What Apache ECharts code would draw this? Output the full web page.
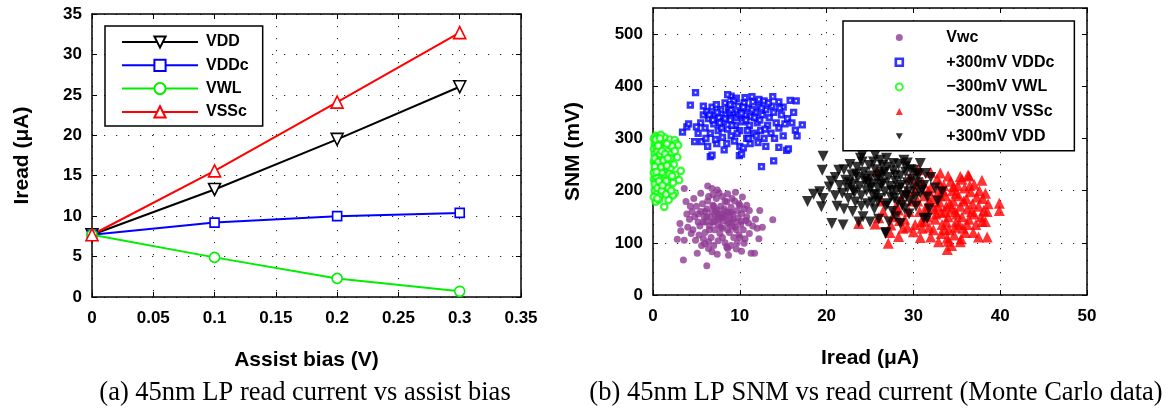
<!DOCTYPE html>
<html><head><meta charset="utf-8">
<script src="https://cdn.jsdelivr.net/npm/echarts@6/dist/echarts.min.js"></script>
<style>html,body{margin:0;padding:0;background:#fff}#c{width:1169px;height:409px}</style>
</head><body><div id="c"></div>
<script>
// ---------- (a) read current vs assist bias ----------
const biasX = [0, 0.1, 0.2, 0.3];
const vdd  = [7.7, 13.3, 19.5, 26.0];
const vddc = [7.7, 9.2, 10.0, 10.4];
const vwl  = [7.7, 4.9, 2.3, 0.7];
const vssc = [7.7, 15.6, 24.1, 32.7];
const leftXTicks = {min: 0, max: 0.35, interval: 0.05, showMax: true};
const leftYTicks = {min: 0, max: 35, interval: 5, showMax: true};

// ---------- (b) SNM vs read current (Monte Carlo) ----------
const vwcPts = [[6.3,209],[6.8,204],[7.4,201],[3.8,179],[3.6,204],[6.4,189],[8.0,189],[9.5,197],[10.3,188],[8.6,194],[2.8,107],[3.5,67],[6.2,56],[5.1,80],[6.4,89],[6.8,83],[7.4,78],[8.6,89],[8.7,76],[9.7,100],[3.1,137],[3.2,123],[3.6,105],[13.8,144],[12.6,130],[12.0,128],[11.1,118],[10.5,99],[11.3,80],[11.7,80],[10.2,84],[12.3,162],[11.1,162],[10.7,143],
[4.5,160],[4.8,150],[5.0,170],[5.2,140],[5.4,132],[5.5,160],[5.7,175],[5.9,150],[6.0,120],[6.1,140],[6.2,165],[6.3,180],[6.5,132],[6.6,150],[6.7,110],[6.8,160],[6.9,172],[7.0,140],[7.1,125],[7.2,152],[7.3,185],[7.4,163],[7.5,135],[7.6,145],[7.7,118],[7.8,170],[7.9,155],[8.0,128],[8.1,142],[8.2,165],[8.3,100],[8.4,150],[8.5,178],[8.6,137],[8.7,158],[8.8,120],[8.9,145],[9.0,168],[9.1,132],[9.2,155],[9.3,110],[9.4,180],[9.5,140],[9.6,125],[9.7,162],[9.8,148],[9.9,115],[10.0,172],[10.1,135],[10.2,156],[10.4,125],[10.5,165],[10.6,108],[10.8,150],[11.0,138],
[4.0,130],[4.2,145],[4.4,118],[4.6,125],[4.9,105],[5.3,115],[5.6,95],[5.8,108],[6.0,98],[6.4,102],[7.0,95],[7.5,104],[8.0,110],[8.5,92],[9.0,95],[9.6,88],[10.0,110],[11.5,132],[12.2,108],[11.8,145],[3.9,155],[4.3,170],[4.7,185],[5.5,195],[6.9,192],[7.6,196],[8.3,180],[9.1,185],[9.9,175],[10.8,172],
[6.2,150],[6.8,140],[7.2,160],[7.6,155],[8.0,148],[8.4,160],[8.8,138],[9.2,145],[7.0,170],[7.8,130],[8.6,125],[6.5,125],[5.8,140],[9.4,130],[8.2,152],[7.4,148],[6.0,160],[9.0,158],[10.2,142],[5.2,155]];

const vddcPts = [[4.9,388],[4.3,364],[3.4,312],[3.9,322],[4.1,328],[4.8,294],[5.6,294],[6.6,265],[6.8,268],[7.35,290],[9.95,267],[10.0,285],[12.5,246],[13.9,257],[14.5,283],[15.4,277],[15.6,280],[17.2,326],[16.4,316],[16.6,305],[15.8,373],[16.5,372],[13.8,380],[9.0,381],[9.6,377],[8.6,384],[10.6,378],[11.4,380],[12.2,375],[14.5,370],[15.0,360],
[5.5,330],[5.8,345],[6.0,320],[6.2,352],[6.4,338],[6.6,310],[6.8,360],[7.0,328],[7.1,345],[7.3,365],[7.5,315],[7.6,340],[7.8,355],[8.0,302],[8.1,332],[8.3,368],[8.4,345],[8.6,318],[8.7,358],[8.9,335],[9.0,305],[9.2,348],[9.3,372],[9.5,325],[9.6,340],[9.8,362],[10.0,315],[10.1,350],[10.3,332],[10.5,368],[10.6,345],[10.8,300],[11.0,358],[11.1,325],[11.3,342],[11.5,370],[11.6,310],[11.8,350],[12.0,330],[12.2,362],[12.4,315],[12.6,345],[12.8,300],[13.0,355],[13.2,325],[13.4,340],[13.6,310],[13.9,350],[14.2,330],[14.5,320],[14.8,345],[15.2,328],[15.5,338],[16.0,330],[5.2,310],[5.0,322],[6.1,300],[7.2,298],[8.5,290],[9.4,295],[10.4,282],[11.2,290],[12.1,292],[13.0,285],[10.2,270],[11.0,300],[8.2,278],[6.3,285],[7.9,320],[9.1,325],[10.7,335],[12.5,358],[8.8,350],[9.9,345],[11.4,355],[7.4,350],[6.5,345],[10.9,315],[12.9,318],[13.7,362],[14.0,300],[11.9,305],[9.7,310],[8.3,338],[7.7,330],[10.4,360],[11.7,340],[12.3,335],[9.0,355],[10.2,348],[6.9,335],[8.9,365],[15.0,305],[16.2,350],[14.6,358],[5.8,362],[12.8,372],[13.3,368]];

const vwlPts = [[0.1,300],[0.3,305],[0.5,302],[0.2,290],[0.6,295],[0.9,298],[1.2,292],[1.9,298],[2.5,297],[2.7,290],[2.9,287],[0.1,280],[0.4,284],[0.7,278],[1.0,285],[1.4,280],[1.7,275],[2.1,270],[2.8,264],[0.2,270],[0.5,266],[0.8,262],[1.1,268],[1.5,260],[1.9,255],[2.4,250],[3.2,238],[0.1,255],[0.3,250],[0.6,245],[0.9,252],[1.2,240],[1.6,236],[2.0,242],[2.6,230],[0.2,238],[0.5,232],[0.8,228],[1.1,222],[1.4,230],[1.8,225],[3.0,220],[0.1,222],[0.3,215],[0.6,210],[0.9,205],[1.3,212],[1.7,205],[2.3,215],[0.2,200],[0.5,195],[0.8,190],[1.2,198],[2.5,195],[2.3,191],[1.8,182],[1.3,169],[0.3,179],[0.1,188],[0.7,183],[0.4,258],[0.7,240],[1.0,235],[0.4,220],[0.6,225],[0.9,215],[0.3,228],[0.2,262],[0.5,275],[0.8,270],[1.1,255],[1.3,248],[0.4,292],[0.7,288],[1.0,276],[0.3,244],[0.6,255],[0.9,245],[1.2,258],[0.2,212],[0.5,205],[1.0,200],[1.5,218],[1.6,248],[2.0,262],[0.3,298],[1.3,302],[0.9,307],[0.6,286],[0.2,246],[0.1,234],[0.4,236],[0.7,218],[1.1,210],[0.5,185],[1.5,193],[2.1,200],[1.9,232],[2.2,285],[1.6,290],[0.8,300],[1.4,270],[1.7,262],[2.5,276],[2.2,228]];

const vsscPts = [[23.7,137],[25.6,136],[27.4,134],[27.1,99],[28.3,112],[30.0,121],[32.0,111],[33.9,87],[33.9,109],[34.0,103],[35.4,102],[37.5,111],[38.5,111],[37.9,141],[38.3,141],[38.1,162],[38.5,160],[39.9,176],[39.9,162],[38.3,195],[37.9,220],[36.4,228],[35.4,227],[33.1,234],[30.6,240],[25.8,237],[28.3,163],[26.5,160],[29.0,145],[26.3,180],
[30.2,200],[30.5,180],[30.7,160],[30.9,140],[31.1,215],[31.3,190],[31.5,170],[31.6,150],[31.8,130],[32.0,205],[32.2,185],[32.4,165],[32.5,145],[32.7,222],[32.9,198],[33.0,178],[33.2,158],[33.3,135],[33.5,210],[33.7,190],[33.8,170],[34.0,150],[34.1,125],[34.3,218],[34.5,200],[34.6,180],[34.8,160],[34.9,140],[35.1,210],[35.2,190],[35.4,170],[35.6,150],[35.7,128],[35.9,205],[36.1,185],[36.2,165],[36.4,145],[36.6,198],[36.8,175],[37.0,155],[37.2,135],[37.3,188],[37.5,170],[37.8,150],[36.0,120],[34.7,115],[33.2,118],[32.3,125],[31.0,128],[30.2,135],[29.5,160],[29.8,180],[29.2,200],[28.6,185],[28.0,170],[27.6,150],[28.8,128],[27.3,120],[26.0,148],[33.6,160],[34.2,175],[34.9,195],[33.4,200],[32.8,170],[35.8,180],[36.5,210],[31.9,178],[33.1,190],[34.4,165],[35.0,155],[32.6,155],[35.3,135],[36.9,120],[33.8,140],[31.4,160],[30.4,215],[35.6,222],[37.0,212],[36.3,230],[32.0,235],[34.0,228],[29.6,225],[31.7,200],[33.0,215],[34.6,208],[38.0,185],[37.6,200],[38.6,175],[36.7,160],[35.5,108],[34.4,95],[32.9,102],[30.8,110],[29.3,130],[31.2,142],[28.4,143],[34.8,130],[36.2,135],[33.6,125]];

const vddPts = [[19.6,266],[19.5,239],[17.8,179],[18.5,193],[19.2,198],[19.6,185],[19.4,169],[20.6,137],[21.9,134],[20.3,207],[21.2,170],[21.4,239],[23.7,140],[25.0,140],[26.8,120],[26.8,118],[24.1,268],[25.6,268],[28.5,137],[31.2,147],[31.6,147],[33.3,198],[31.0,201],[31.4,233],[30.0,239],[29.1,246],[27.7,252],[29.3,253],[30.4,233],[30.8,252],
[21.0,225],[21.5,210],[21.8,195],[22.0,240],[22.2,220],[22.4,205],[22.5,185],[22.7,250],[22.9,230],[23.0,212],[23.2,196],[23.3,178],[23.5,245],[23.6,225],[23.8,208],[24.0,190],[24.1,255],[24.3,235],[24.4,218],[24.6,200],[24.7,175],[24.9,248],[25.0,228],[25.2,212],[25.3,192],[25.5,165],[25.6,240],[25.8,222],[25.9,205],[26.1,185],[26.2,258],[26.4,232],[26.5,215],[26.7,198],[26.8,170],[27.0,245],[27.1,225],[27.3,208],[27.4,188],[27.6,160],[27.7,238],[27.9,218],[28.0,200],[28.2,178],[28.3,250],[28.5,228],[28.6,210],[28.8,190],[29.0,165],[29.1,235],[29.3,215],[29.4,198],[29.6,180],[29.8,222],[30.0,205],[30.2,188],[30.5,215],[30.8,195],[31.2,210],[31.6,188],[32.0,225],[32.5,205],[23.0,160],[24.2,150],[26.0,145],[27.2,140],[28.0,150],[29.5,155],[30.3,170],[22.0,165],[21.0,190],[20.5,218],[23.9,262],[26.9,262],[25.4,255],[28.9,258],[27.5,200],[26.3,212],[25.1,205],[24.5,222],[27.8,185],[26.6,235],[25.7,192],[28.4,205],[29.7,240],[23.4,232],[24.8,215],[25.9,180],[27.0,175],[28.7,172],[22.6,215],[26.0,228],[29.2,190],[30.6,230],[31.8,165],[32.8,180],[24.0,170],[25.3,178],[27.9,230],[26.4,248],[23.1,200]];
const rightXTicks = {min: 0, max: 50, interval: 10, showMax: true};
const rightYTicks = {min: 0, max: 550, interval: 100, showMax: false};

const captionA = '(a) 45nm LP read current vs assist bias';
const captionB = '(b) 45nm LP SNM vs read current (Monte Carlo data)';

// ---------- styling helpers ----------
const SANS = '"Liberation Sans", Arial, sans-serif';
const SERIF = '"Liberation Serif", "Times New Roman", serif';
const DOWN_TRI = 'path://M0,0 L10,0 L5,9 Z';
const pairs = (xs, ys) => xs.map((x, i) => [x, ys[i]]);

function mainAxis(kind, grid, t, name, gap) {
  return {
    type: 'value', gridIndex: grid, min: t.min, max: t.max, interval: t.interval,
    name: name, nameLocation: 'middle', nameGap: gap,
    nameTextStyle: {fontFamily: SANS, fontWeight: 'bold', fontSize: 21, color: '#000'},
    axisLine: {show: true, onZero: false, lineStyle: {color: '#000', width: 1.5}},
    axisTick: {show: true, inside: true, length: 5, lineStyle: {color: '#000', width: 1}},
    axisLabel: {fontFamily: SANS, fontWeight: 'bold', fontSize: 17, color: '#000',
      margin: kind === 'x' ? 13 : 10, showMaxLabel: t.showMax, showMinLabel: true, hideOverlap: false},
    splitLine: {show: true, lineStyle: {color: '#222', width: 1, type: [1.2, 10.8]}}
  };
}
function mirrorAxis(grid, t, pos) {
  return {
    type: 'value', gridIndex: grid, min: t.min, max: t.max, interval: t.interval, position: pos,
    axisLine: {show: true, onZero: false, lineStyle: {color: '#000', width: 1.5}},
    axisTick: {show: true, inside: true, length: 5, lineStyle: {color: '#000', width: 1}},
    axisLabel: {show: false}, splitLine: {show: false}
  };
}
function lineSeries(name, ys, color, symbol, size) {
  return {
    name: name, type: 'line', xAxisIndex: 0, yAxisIndex: 0, data: pairs(biasX, ys),
    symbol: symbol, symbolSize: size, showAllSymbol: true,
    lineStyle: {color: color, width: 2},
    itemStyle: {color: '#fff', borderColor: color, borderWidth: 1.6},
    emphasis: {disabled: true}, animation: false, z: 3
  };
}
function scatterSeries(name, pts, symbol, size, itemStyle) {
  return {
    name: name, type: 'scatter', xAxisIndex: 2, yAxisIndex: 2, data: pts,
    symbol: symbol, symbolSize: size, itemStyle: itemStyle,
    emphasis: {disabled: true}, animation: false
  };
}

const chart = echarts.init(document.getElementById('c'), null, {renderer: 'canvas'});
chart.setOption({
  backgroundColor: '#fff',
  animation: false,
  grid: [
    {left: 92, top: 14, width: 429, height: 283, containLabel: false},
    {left: 653, top: 8, width: 434, height: 287, containLabel: false}
  ],
  xAxis: [
    mainAxis('x', 0, leftXTicks, 'Assist bias (V)', 53),
    mirrorAxis(0, leftXTicks, 'top'),
    mainAxis('x', 1, rightXTicks, 'Iread (\u03bcA)', 53),
    mirrorAxis(1, rightXTicks, 'top')
  ],
  yAxis: [
    mainAxis('y', 0, leftYTicks, 'Iread (\u03bcA)', 59),
    mirrorAxis(0, leftYTicks, 'right'),
    mainAxis('y', 1, rightYTicks, 'SNM (mV)', 69),
    mirrorAxis(1, rightYTicks, 'right')
  ],
  legend: [
    {
      data: ['VDD', 'VDDc', 'VWL', 'VSSc'], orient: 'vertical', left: 105, top: 26,
      itemWidth: 76, itemHeight: 14, itemGap: 5.3, padding: [7, 14, 5, 16],
      backgroundColor: '#fff', borderColor: '#000', borderWidth: 1.5, borderRadius: 0,
      textStyle: {fontFamily: SANS, fontWeight: 'bold', fontSize: 16, color: '#000', lineHeight: 18, padding: [0, 0, 0, 3]},
      selectedMode: false
    },
    {
      data: [
        'Vwc',
        {name: '+300mV VDDc', itemStyle: {color: '#fff', borderColor: '#0000ff', borderWidth: 2.6}, icon: 'rect'},
        '\u2212300mV VWL', '\u2212300mV VSSc', '+300mV VDD'
      ],
      orient: 'vertical', left: 843, top: 21,
      itemWidth: 7, itemHeight: 7, itemGap: 6.7, padding: [7.5, 20, 5.5, 51.5],
      backgroundColor: '#fff', borderColor: '#000', borderWidth: 1.5, borderRadius: 0,
      textStyle: {fontFamily: SANS, fontWeight: 'bold', fontSize: 16, color: '#000', lineHeight: 18, padding: [0, 0, 0, 38.5]},
      selectedMode: false
    }
  ],
  series: [
    lineSeries('VDD', vdd, '#000000', DOWN_TRI, 12),
    lineSeries('VDDc', vddc, '#0000ff', 'rect', 9),
    lineSeries('VWL', vwl, '#00ee00', 'circle', 10),
    lineSeries('VSSc', vssc, '#ff0000', 'triangle', 12),
    scatterSeries('Vwc', vwcPts, 'circle', 7, {color: '#8e3b94'}),
    scatterSeries('+300mV VDDc', vddcPts, 'rect', 4.5, {color: '#fff', borderColor: '#0000ff', borderWidth: 2.8}),
    scatterSeries('\u2212300mV VWL', vwlPts, 'circle', 6.5, {color: '#fff', borderColor: '#00ff00', borderWidth: 2.2}),
    scatterSeries('\u2212300mV VSSc', vsscPts, 'triangle', 11, {color: '#ff0000'}),
    scatterSeries('+300mV VDD', vddPts, DOWN_TRI, 11, {color: '#000000'})
  ],
  graphic: [
    {type: 'text', x: 305, y: 393, silent: true,
      style: {text: captionA, font: '26.5px ' + SERIF, fill: '#000', align: 'center', verticalAlign: 'middle'}},
    {type: 'text', x: 876, y: 393, silent: true,
      style: {text: captionB, font: '26.5px ' + SERIF, fill: '#000', align: 'center', verticalAlign: 'middle'}}
  ]
});
</script>
</body></html>
